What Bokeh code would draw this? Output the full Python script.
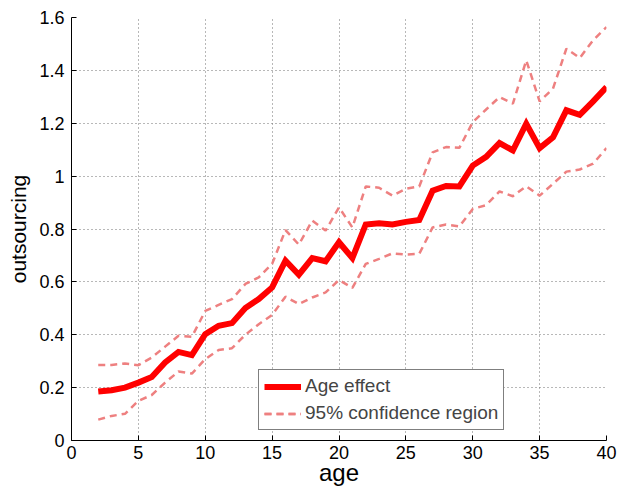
from bokeh.plotting import figure
from bokeh.models import (FixedTicker, CustomJSTickFormatter, Legend, LegendItem, Range1d)
from bokeh.embed import file_html
from bokeh.resources import INLINE

# Estimated age effect on outsourcing with its 95% confidence band
ages = list(range(2, 41))
age_effect = [0.185, 0.190, 0.200, 0.219, 0.240, 0.295, 0.335, 0.323, 0.402, 0.434,
              0.444, 0.501, 0.535, 0.579, 0.680, 0.627, 0.690, 0.678, 0.750, 0.690,
              0.817, 0.822, 0.817, 0.827, 0.834, 0.945, 0.963, 0.961, 1.040, 1.073,
              1.125, 1.097, 1.198, 1.106, 1.147, 1.249, 1.232, 1.283, 1.337]
ci_upper = [0.286, 0.286, 0.291, 0.285, 0.314, 0.355, 0.396, 0.392, 0.490, 0.513,
            0.535, 0.592, 0.617, 0.668, 0.796, 0.741, 0.832, 0.794, 0.882, 0.806,
            0.961, 0.956, 0.926, 0.952, 0.961, 1.090, 1.110, 1.107, 1.204, 1.252,
            1.299, 1.274, 1.438, 1.283, 1.331, 1.482, 1.447, 1.514, 1.564]
ci_lower = [0.079, 0.093, 0.101, 0.150, 0.172, 0.219, 0.261, 0.253, 0.308, 0.342,
            0.349, 0.400, 0.440, 0.475, 0.544, 0.516, 0.541, 0.560, 0.607, 0.577,
            0.668, 0.687, 0.708, 0.703, 0.706, 0.806, 0.817, 0.810, 0.876, 0.890,
            0.942, 0.924, 0.962, 0.926, 0.971, 1.017, 1.025, 1.047, 1.106]

x_ticks = [0, 5, 10, 15, 20, 25, 30, 35, 40]
y_ticks = [0, 0.2, 0.4, 0.6, 0.8, 1.0, 1.2, 1.4, 1.6]

FONT = "Liberation Sans"

p = figure(width=618, height=491, output_backend="svg", toolbar_location=None,
           x_range=Range1d(0, 40), y_range=Range1d(0, 1.6),
           min_border_left=71, min_border_right=12, min_border_top=17,
           min_border_bottom=51)
p.outline_line_color = None
p.background_fill_color = "white"
p.border_fill_color = "white"

# dotted grid
for g in (p.xgrid, p.ygrid):
    g.grid_line_color = "#707070"
    g.grid_line_dash = "1 3"
    g.grid_line_width = 1
p.xgrid.ticker = FixedTicker(ticks=x_ticks)
p.ygrid.ticker = FixedTicker(ticks=y_ticks)

fmt = CustomJSTickFormatter(code="return String(Math.round(tick * 10) / 10);")
for ax, ticks in ((p.xaxis[0], x_ticks), (p.yaxis[0], y_ticks)):
    ax.ticker = FixedTicker(ticks=ticks, minor_ticks=[])
    ax.formatter = fmt
    ax.axis_line_color = "black"
    ax.major_tick_in = 5
    ax.major_tick_out = 0
    ax.minor_tick_in = 0
    ax.minor_tick_out = 0
    ax.major_label_text_font = FONT
    ax.major_label_text_font_size = "18px"
    ax.major_label_text_color = "black"
    ax.axis_label_text_font = FONT
    ax.axis_label_text_font_style = "normal"
    ax.axis_label_text_color = "black"

p.xaxis.axis_label = "age"
p.xaxis.axis_label_text_font_size = "24px"
p.xaxis.major_label_standoff = 5
p.xaxis.axis_label_standoff = -3

p.yaxis.axis_label = "outsourcing"
p.yaxis.axis_label_text_font_size = "21px"
p.yaxis.major_label_standoff = 7
p.yaxis.axis_label_standoff = 6

band_color = "#EE8080"
r_up = p.line(ages, ci_upper, line_color=band_color, line_width=2.5, line_dash="7 5")
r_lo = p.line(ages, ci_lower, line_color=band_color, line_width=2.5, line_dash="7 5")
r_main = p.line(ages, age_effect, line_color="#FF0000", line_width=6, line_join="miter")

legend = Legend(items=[LegendItem(label="Age effect", renderers=[r_main]),
                       LegendItem(label="95% confidence region", renderers=[r_up, r_lo])],
                location=(187, 10), margin=0, padding=5, spacing=5,
                glyph_width=37, glyph_height=21, label_height=21, label_standoff=4,
                label_text_font=FONT, label_text_font_size="19px",
                border_line_color="black", border_line_width=1,
                background_fill_color="white", background_fill_alpha=1)
p.add_layout(legend, "center")

open("out.html", "w").write(file_html(p, INLINE))
